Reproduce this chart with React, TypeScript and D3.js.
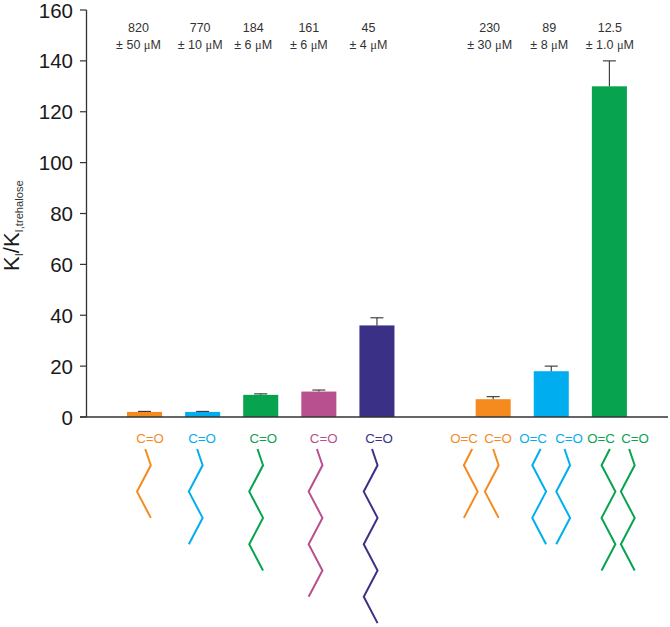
import React from "react";
import * as d3 from "d3";

const categories = ["C4", "C5", "C6", "C7", "C8", "gap", "diC4", "diC5", "diC6"];
const barKeys = ["C4", "C5", "C6", "C7", "C8", "diC4", "diC5", "diC6"];
const values = [2, 2, 8.7, 10, 36, 7, 18, 130];
const errors = [0.2, 0.2, 0.4, 0.6, 3, 1, 2, 10];
const colors = ["#f58a1f", "#00aeef", "#07a34f", "#b84f8e", "#3a3187", "#f58a1f", "#00aeef", "#07a34f"];
const kiValues = ["820", "770", "184", "161", "45", "230", "89", "12.5"];
const kiErrors = ["± 50", "± 10", "± 6", "± 6", "± 4", "± 30", "± 8", "± 1.0"];
const kiOffsets = [-6, -2.5, -7.5, -10, -8.5, -3.5, -2, 0.5];
const yTicks = [0, 20, 40, 60, 80, 100, 120, 140, 160];

// Chain schematic: each drawn chain's bar, side and length
const chainBars = [0, 1, 2, 3, 4, 5, 5, 6, 6, 7, 7];
const chainMirror = [false, false, false, false, false, true, false, true, false, true, false];
const chainLength = [3, 4, 5, 6, 7, 3, 3, 4, 4, 5, 5];
const chainOffset = [-7.5, -13.8, -11.5, -10.2, -13.2, -29.3, -8.3, -19, 5, -7.8, 11.5];
const labelText = ["C=O", "C=O", "C=O", "C=O", "C=O", "O=C", "C=O", "O=C", "C=O", "O=C", "C=O"];
const labelCenter = [150, 202, 263.3, 323.7, 379, 464, 498, 533, 569, 601, 635];

const x = d3.scaleBand<string>().domain(categories).range([115.5, 638.4]).paddingInner(0.397).paddingOuter(0.198);
const y = d3.scaleLinear().domain([0, 160]).range([417, 10]);
const chainY = d3.scaleLinear().domain([1, 8]).range([465.3, 649.4]);
const chainX = d3.scaleLinear().domain([0, 1]).range([0, 13.8]);
const sans = "'Liberation Sans', Arial, sans-serif";
const dark = "#333";

export default function App() {
  const bw = x.bandwidth();
  return (
    <svg width={670} height={627} viewBox="0 0 670 627" style={{ position: "absolute", left: 0, top: 0, background: "#fff" }} fontFamily={sans}>
      {barKeys.map((k, i) => {
        const cx = x(k)! + bw / 2;
        return (
          <g key={k}>
            <rect x={x(k)} y={y(values[i])} width={bw} height={y(0) - y(values[i])} fill={colors[i]} />
            <line x1={cx} x2={cx} y1={y(values[i])} y2={y(values[i] + errors[i])} stroke={dark} strokeWidth={1.1} />
            <line x1={cx - 6.5} x2={cx + 6.5} y1={y(values[i] + errors[i])} y2={y(values[i] + errors[i])} stroke={dark} strokeWidth={1.1} />
            <text x={cx + kiOffsets[i]} y={32} textAnchor="middle" fontSize={12.5} fill={dark}>{kiValues[i]}</text>
            <text x={cx + kiOffsets[i]} y={49} textAnchor="middle" fontSize={12.5} fill={dark}>
              {kiErrors[i]} <tspan fontFamily="'Liberation Serif', serif">μ</tspan>M
            </text>
          </g>
        );
      })}
      <line x1={86.5} x2={86.5} y1={y(160)} y2={y(0)} stroke={dark} strokeWidth={1.3} />
      <line x1={80} x2={668} y1={y(0)} y2={y(0)} stroke={dark} strokeWidth={1.3} />
      {yTicks.map((t) => (
        <g key={t}>
          <line x1={80} x2={86.5} y1={y(t)} y2={y(t)} stroke={dark} strokeWidth={1.2} />
          <text x={73} y={y(t) + 7.5} textAnchor="end" fontSize={20.5} fill="#1a1a1a">{t}</text>
        </g>
      ))}
      <text transform="translate(19,271) rotate(-90)" fontSize={22} fill="#1a1a1a">
        K<tspan fontSize={11.2} dy={4} fill={dark}>I</tspan><tspan dy={-4}>/K</tspan><tspan fontSize={11.2} dy={4} fill={dark}>I,trehalose</tspan>
      </text>
      {chainBars.map((b, i) => {
        const key = barKeys[b];
        const base = x(key)! + bw / 2 + chainOffset[i];
        const levels = [0.38, ...d3.range(1, chainLength[i] + 1)];
        const line = d3.line<number>()
          .x((lv, j) => {
            if (j === 0) return base + chainX(0.6);
            const phase = j % 2 === 1 ? 1 : 0;
            return base + chainX(chainMirror[i] ? 1 - phase : phase);
          })
          .y((lv) => chainY(lv));
        return <path key={i} d={line(levels) ?? ""} fill="none" stroke={colors[b]} strokeWidth={2} />;
      })}
      {chainBars.map((b, i) => (
        <text key={i} x={labelCenter[i]} y={443} textAnchor="middle" fontSize={13.3} fill={colors[b]}>{labelText[i]}</text>
      ))}
    </svg>
  );
}
